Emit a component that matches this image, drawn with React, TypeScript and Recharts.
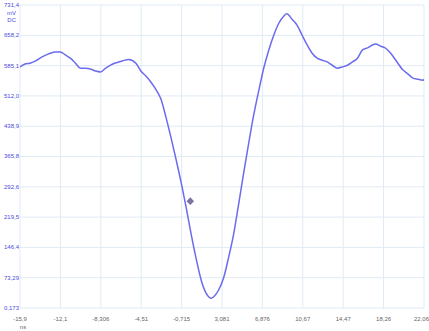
import React from "react";
import { ComposedChart, Line, Scatter, XAxis, YAxis, CartesianGrid } from "recharts";

const timeNs = [
  -15.9, -15.43, -14.95, -14.48, -13.82, -13.06, -12.59, -12.11, -11.64, -11.17, -10.69, -10.22,
  -9.75, -9.27, -8.8, -8.33, -7.85, -7.19, -6.62, -6.24, -5.68, -5.01, -4.54, -4.07, -3.59,
  -3.12, -2.65, -2.17, -1.7, -1.23, -0.75, -0.28, 0.19, 0.67, 1.14, 1.61, 2.09, 2.37, 2.75,
  3.22, 3.69, 4.17, 4.64, 5.11, 5.59, 6.06, 6.53, 7.01, 7.48, 7.95, 8.43, 8.9, 9.18, 9.66,
  10.13, 10.6, 11.08, 11.55, 12.02, 12.5, 12.97, 13.44, 13.92, 14.39, 14.86, 15.34, 15.81,
  16.28, 16.76, 17.23, 17.51, 17.99, 18.46, 18.93, 19.41, 20.07, 20.54, 21.02, 21.49, 21.96, 22.06,
];
const voltageMv = [
  582, 589, 591, 596, 606, 615, 618, 618, 611, 603, 591, 579,
  579, 577, 572, 570, 579, 589, 594, 597, 600, 591, 572, 560, 545,
  527, 504, 459, 410, 358, 302, 242, 177, 117, 66, 35, 24, 29, 43,
  72, 121, 178, 250, 325, 398, 466, 524, 580, 623, 659, 688, 705, 710, 697,
  683, 659, 635, 615, 603, 598, 594, 586, 579, 582, 586, 594, 603,
  623, 628, 635, 637, 632, 627, 615, 598, 575, 565, 555, 552, 550, 552,
];
const xTicks = [-15.9, -12.1, -8.306, -4.51, -0.715, 3.081, 6.876, 10.67, 14.47, 18.26, 22.06];
const xTickLabels = ["-15,9", "-12,1", "-8,306", "-4,51", "-0,715", "3,081", "6,876", "10,67", "14,47", "18,26", "22,06"];
const yTicks = [0.173, 73.29, 146.4, 219.5, 292.6, 365.8, 438.9, 512.0, 585.1, 658.2, 731.4];
const yTickLabels = ["0,173", "73,29", "146,4", "219,5", "292,6", "365,8", "438,9", "512,0", "585,1", "658,2", "731,4"];
const cursorPoint = [{ t: 0.1, v: 258 }];

const lineData = timeNs.map((t, i) => ({ t, v: voltageMv[i] }));

const FONT = "'Liberation Sans', Arial, sans-serif";

const XTick = (props: any) => {
  const { x, y, payload, index } = props;
  const i = xTicks.indexOf(payload.value);
  const last = i === xTicks.length - 1;
  return (
    <g>
      <text
        x={last ? 429 : x}
        y={y + 5}
        textAnchor={last ? "end" : "middle"}
        fontSize={6}
        fontFamily={FONT}
        fill="#666"
      >
        {xTickLabels[i >= 0 ? i : index]}
      </text>
      {i === 0 && (
        <text x={x + 3} y={y + 13} textAnchor="middle" fontSize={6} fontFamily={FONT} fill="#666">
          ns
        </text>
      )}
    </g>
  );
};

const YTick = (props: any) => {
  const { y, payload, index } = props;
  const i = yTicks.indexOf(payload.value);
  const last = i === yTicks.length - 1;
  const lx = 19;
  return (
    <g>
      <text x={lx} y={y + 2} textAnchor="end" fontSize={6} fontFamily={FONT} fill="#4a4ae0">
        {yTickLabels[i >= 0 ? i : index]}
      </text>
      {last && (
        <>
          <text x={lx - 3} y={y + 10} textAnchor="end" fontSize={6} fontFamily={FONT} fill="#4a4ae0">mV</text>
          <text x={lx - 3} y={y + 17} textAnchor="end" fontSize={6} fontFamily={FONT} fill="#4a4ae0">DC</text>
        </>
      )}
    </g>
  );
};

const Diamond = (props: any) => {
  const { cx, cy } = props;
  const s = 3.8;
  return (
    <path
      d={`M${cx},${cy - s} L${cx + s},${cy} L${cx},${cy + s} L${cx - s},${cy} Z`}
      fill="#7b73a6"
    />
  );
};

export default function App() {
  return (
    <div style={{ position: "absolute", left: 0, top: 0, width: 429, height: 331, background: "#fff" }}>
      <ComposedChart width={429} height={331} margin={{ top: 5, right: 5, left: 0, bottom: 0 }}>
        <CartesianGrid stroke="#e0ebf5" strokeWidth={1} />
        <XAxis
          dataKey="t"
          type="number"
          domain={[-15.9, 22.06]}
          ticks={xTicks}
          allowDataOverflow
          height={23}
          axisLine={false}
          tickLine={false}
          tick={<XTick />}
          interval={0}
        />
        <YAxis
          dataKey="v"
          type="number"
          domain={[0.173, 731.4]}
          ticks={yTicks}
          allowDataOverflow
          width={20}
          axisLine={false}
          tickLine={false}
          tick={<YTick />}
          interval={0}
        />
        <Line
          data={lineData}
          dataKey="v"
          type="monotone"
          stroke="#6b6bef"
          strokeWidth={1.5}
          dot={false}
          isAnimationActive={false}
        />
        <Scatter data={cursorPoint} dataKey="v" shape={<Diamond />} isAnimationActive={false} />
      </ComposedChart>
    </div>
  );
}
